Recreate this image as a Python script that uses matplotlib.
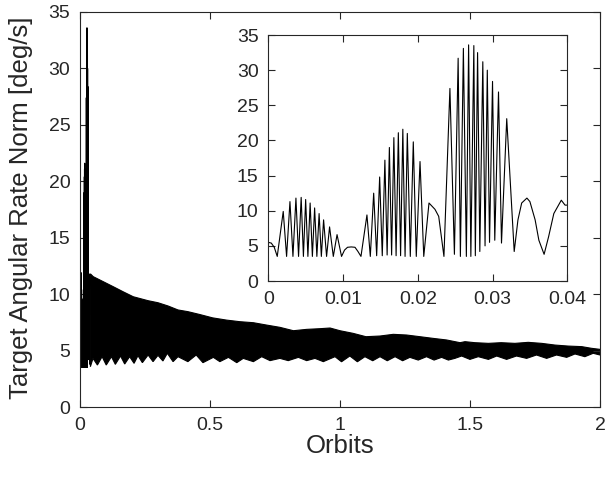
import numpy as np
import matplotlib
matplotlib.use('Agg')
import matplotlib.pyplot as plt

plt.rcParams['font.family'] = ['Liberation Sans', 'DejaVu Sans']

# first orbits (inset), peaks / troughs
t_first = [0.0000, 0.0004, 0.0008, 0.0012, 0.0020, 0.00245, 0.0029, 0.0033, 0.0037, 0.00405,
           0.0044, 0.0047, 0.0050, 0.0053, 0.0056, 0.0059, 0.0062, 0.0065, 0.0068, 0.0071,
           0.0074, 0.0078, 0.0082, 0.0087, 0.0092, 0.0098,
           0.0102, 0.0106, 0.0111, 0.0116, 0.0120, 0.0124,
           0.0132, 0.01365, 0.0141, 0.0145, 0.0149, 0.01525, 0.0156, 0.0159, 0.0162, 0.0165,
           0.0168, 0.0171, 0.0174, 0.0177, 0.0180, 0.0183, 0.0186, 0.0190, 0.0194, 0.0198,
           0.0203, 0.0208,
           0.0215, 0.0223, 0.0228, 0.0235,
           0.0243, 0.0249, 0.0254, 0.0257, 0.0261, 0.0265, 0.0268, 0.0271, 0.0275, 0.0277,
           0.0280, 0.0283, 0.0287, 0.0290, 0.0293, 0.0296, 0.0300, 0.0303, 0.0308, 0.0312,
           0.0319, 0.0329,
           0.0334, 0.0339, 0.0346, 0.0350, 0.0357, 0.0362, 0.0369,
           0.0375, 0.0382, 0.0392, 0.0397, 0.0400]
w_first = [5.5, 5.4, 4.8, 3.5, 9.9, 3.5, 11.3, 3.5, 11.8, 3.5,
           11.9, 3.5, 11.6, 3.5, 11.1, 3.5, 10.4, 3.5, 9.6, 3.5,
           8.7, 3.5, 7.7, 3.5, 6.6, 3.5,
           4.4, 4.8, 4.85, 4.8, 4.2, 3.5,
           9.4, 3.5, 12.5, 3.6, 14.8, 3.6, 17.2, 3.7, 19.0, 3.7,
           20.4, 3.6, 21.1, 3.6, 21.6, 3.5, 21.0, 3.5, 19.8, 3.5,
           17.0, 3.5,
           11.1, 10.2, 9.2, 3.5,
           27.4, 3.8, 31.7, 3.5, 33.1, 3.5, 33.6, 3.5, 33.5, 3.6,
           32.5, 4.2, 31.2, 5.0, 30.0, 5.5, 28.4, 5.8, 26.9, 5.4,
           23.1, 4.2,
           8.7, 11.1, 11.8, 11.3, 8.7, 5.8, 3.8,
           6.3, 9.6, 11.5, 10.8, 10.8]

# envelope of the dense oscillation for the rest of the run
up_x = [0.04, 0.051, 0.090, 0.128, 0.167, 0.205, 0.262, 0.300, 0.339, 0.377, 0.415,
        0.46, 0.51, 0.564, 0.615, 0.667, 0.718, 0.769, 0.821, 0.872, 0.923, 0.962,
        1.0, 1.05, 1.10, 1.154, 1.205, 1.256, 1.308, 1.359, 1.41, 1.462,
        1.481, 1.519, 1.571, 1.62, 1.673, 1.724, 1.776, 1.827, 1.878, 1.93, 1.968, 2.0]
up_y = [11.8, 11.55, 11.1, 10.66, 10.2, 9.77, 9.42, 9.24, 8.95, 8.6, 8.45,
        8.2, 7.9, 7.7, 7.56, 7.47, 7.26, 7.06, 6.76, 6.88, 6.94, 7.0,
        6.76, 6.53, 6.23, 6.29, 6.44, 6.38, 6.23, 6.08, 5.94, 5.7,
        5.79, 5.7, 5.64, 5.7, 5.64, 5.73, 5.64, 5.49, 5.4, 5.35, 5.2, 5.11]

lo_x = [0.04, 0.05, 0.067, 0.085, 0.101, 0.121, 0.136, 0.156, 0.172, 0.191, 0.208,
        0.223, 0.240, 0.262, 0.281, 0.300, 0.319, 0.336, 0.358, 0.377, 0.415, 0.447,
        0.473, 0.513, 0.538, 0.571, 0.603, 0.628, 0.667, 0.699, 0.731, 0.769, 0.801,
        0.840, 0.872, 0.904, 0.936, 0.981, 1.006, 1.038, 1.067, 1.096, 1.126, 1.154,
        1.182, 1.212, 1.241, 1.269, 1.301, 1.333, 1.362, 1.391, 1.417, 1.442, 1.468,
        1.5, 1.532, 1.571, 1.603, 1.641, 1.679, 1.718, 1.756, 1.795, 1.833, 1.872,
        1.904, 1.942, 1.974, 2.0]
lo_y = [3.57, 4.31, 3.72, 4.46, 3.72, 4.46, 3.78, 4.52, 3.81, 4.46, 3.87,
        4.55, 3.93, 4.61, 4.02, 4.58, 4.08, 4.76, 4.02, 4.46, 4.02, 4.61,
        3.93, 4.40, 4.02, 4.40, 3.93, 4.31, 4.02, 4.46, 4.11, 4.31, 4.11,
        4.40, 4.11, 4.31, 4.02, 4.46, 4.01, 4.52, 4.01, 4.46, 4.10, 4.46,
        4.10, 4.46, 4.10, 4.40, 4.16, 4.46, 4.16, 4.40, 4.16, 4.31, 4.52,
        4.22, 4.46, 4.22, 4.52, 4.22, 4.52, 4.31, 4.61, 4.31, 4.61, 4.40,
        4.70, 4.46, 4.76, 4.61]

axis_col = '#262626'
tick_fs = 14
label_fs = 18.5


def style(ax):
    for s in ax.spines.values():
        s.set_color(axis_col)
        s.set_linewidth(0.8)
    ax.tick_params(direction='in', top=True, right=True, length=5, width=0.8,
                   colors=axis_col, labelsize=tick_fs, pad=7)


fig = plt.figure(figsize=(6.06, 4.78), dpi=100)
ax = fig.add_axes([0.132, 0.1485, 0.858, 0.8264])
ax.plot(t_first, w_first, color='black', lw=0.8)
ax.fill(np.concatenate([up_x, lo_x[::-1]]), np.concatenate([up_y, lo_y[::-1]]),
        color='black', lw=0.8, edgecolor='black')
ax.set_xlim(0, 2)
ax.set_ylim(0, 35)
ax.set_xticks([0, 0.5, 1, 1.5, 2])
ax.set_xticklabels(['0', '0.5', '1', '1.5', '2'])
ax.set_yticks(range(0, 36, 5))
ax.set_xlabel('Orbits', fontsize=label_fs, color=axis_col)
ax.set_ylabel('Target Angular Rate Norm [deg/s]', fontsize=label_fs, color=axis_col)
ax.xaxis.set_label_coords(0.5, -0.068)
ax.yaxis.set_label_coords(-0.09, 0.505)
style(ax)

ins = fig.add_axes([0.4427, 0.4121, 0.4934, 0.5146])
ins.plot(t_first, w_first, color='black', lw=0.8)
ins.set_xlim(0, 0.04)
ins.set_ylim(0, 35)
ins.set_xticks([0, 0.01, 0.02, 0.03, 0.04])
ins.set_xticklabels(['0', '0.01', '0.02', '0.03', '0.04'])
ins.set_yticks(range(0, 36, 5))
style(ins)

fig.savefig('out.png', dpi=100)
